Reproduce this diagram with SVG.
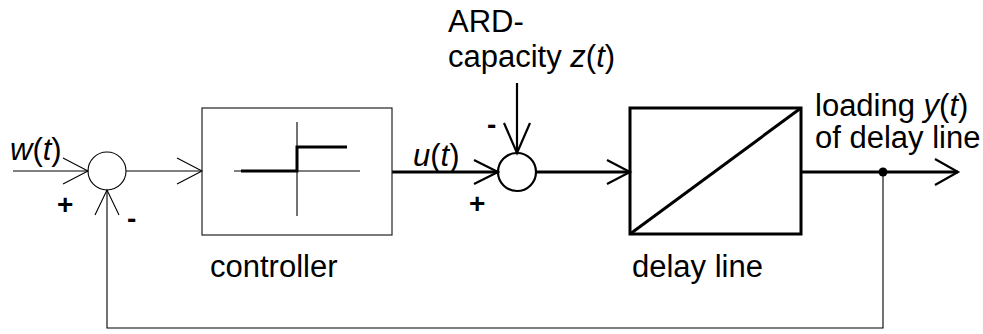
<svg xmlns="http://www.w3.org/2000/svg" width="983" height="334" viewBox="0 0 983 334">
<style>
  text { font-family: "Liberation Sans", Arial, sans-serif; font-size: 31px; fill: #000; }
  .sign { font-weight: bold; font-size: 28px; }
  .thin { fill: none; stroke: #000; stroke-width: 1.1; }
  .thick { fill: none; stroke: #000; stroke-width: 3; }
  .mid { fill: none; stroke: #000; stroke-width: 2.2; }
</style>
<rect width="983" height="334" fill="#fff"/>

<g id="connectors">
  <!-- input w(t) -->
  <line class="thin" x1="13" y1="171" x2="88" y2="171"/>
  <polyline class="thin" points="63,158 88,171 63,184"/>
  <!-- sum1 to controller -->
  <line class="thin" x1="126" y1="171" x2="202" y2="171"/>
  <polyline class="thin" points="177,158 202,171 177,184"/>
  <!-- controller to sum2: u(t) -->
  <line class="thick" x1="392" y1="172" x2="498" y2="172"/>
  <polyline class="mid" points="474,160 498,172 474,184"/>
  <!-- ARD capacity down to sum2 -->
  <line class="mid" x1="517" y1="83" x2="517" y2="153"/>
  <polyline class="mid" points="504,123 517,153 530,123"/>
  <!-- sum2 to delay line -->
  <line class="thick" x1="536" y1="172" x2="630" y2="172"/>
  <polyline class="mid" points="607,160 630,172 607,184"/>
  <!-- output -->
  <line class="thick" x1="801" y1="172" x2="958" y2="172"/>
  <polyline class="mid" points="935,159 958,172 935,185"/>
  <circle cx="883" cy="172" r="4.5" fill="#000"/>
  <!-- feedback -->
  <polyline class="thin" points="883,172 883,328 107,328 107,190"/>
  <polyline class="thin" points="95,215 107,190 119,215"/>
</g>

<g id="sum1">
  <circle class="thin" cx="107" cy="171" r="19"/>
  <text class="sign" x="57" y="214">+</text>
  <text class="sign" x="127" y="228">-</text>
</g>

<g id="controller">
  <rect x="202" y="108" width="190" height="127" fill="none" stroke="#222" stroke-width="1.2"/>
  <line class="thin" x1="234" y1="171" x2="360" y2="171"/>
  <line class="thin" x1="297" y1="122" x2="297" y2="216"/>
  <polyline class="thick" points="241,171 297,171 297,147 347,147"/>
  <text x="210" y="277">controller</text>
</g>

<g id="sum2">
  <circle class="mid" cx="517" cy="172" r="19"/>
  <text class="sign" x="469" y="213">+</text>
  <text class="sign" x="487" y="134">-</text>
</g>

<g id="delayline">
  <rect class="thick" x="630" y="108" width="171" height="126"/>
  <line class="thick" x1="630" y1="234" x2="801" y2="108"/>
  <text x="632" y="277">delay line</text>
</g>

<g id="labels">
  <text x="10" y="160"><tspan font-style="italic">w</tspan>(<tspan font-style="italic">t</tspan>)</text>
  <text x="413" y="166"><tspan font-style="italic">u</tspan>(<tspan font-style="italic">t</tspan>)</text>
  <text x="448" y="32">ARD-</text>
  <text x="448" y="67">capacity <tspan font-style="italic">z</tspan>(<tspan font-style="italic">t</tspan>)</text>
  <text x="815" y="116">loading <tspan font-style="italic">y</tspan>(<tspan font-style="italic">t</tspan>)</text>
  <text x="815" y="148">of delay line</text>
</g>
</svg>
